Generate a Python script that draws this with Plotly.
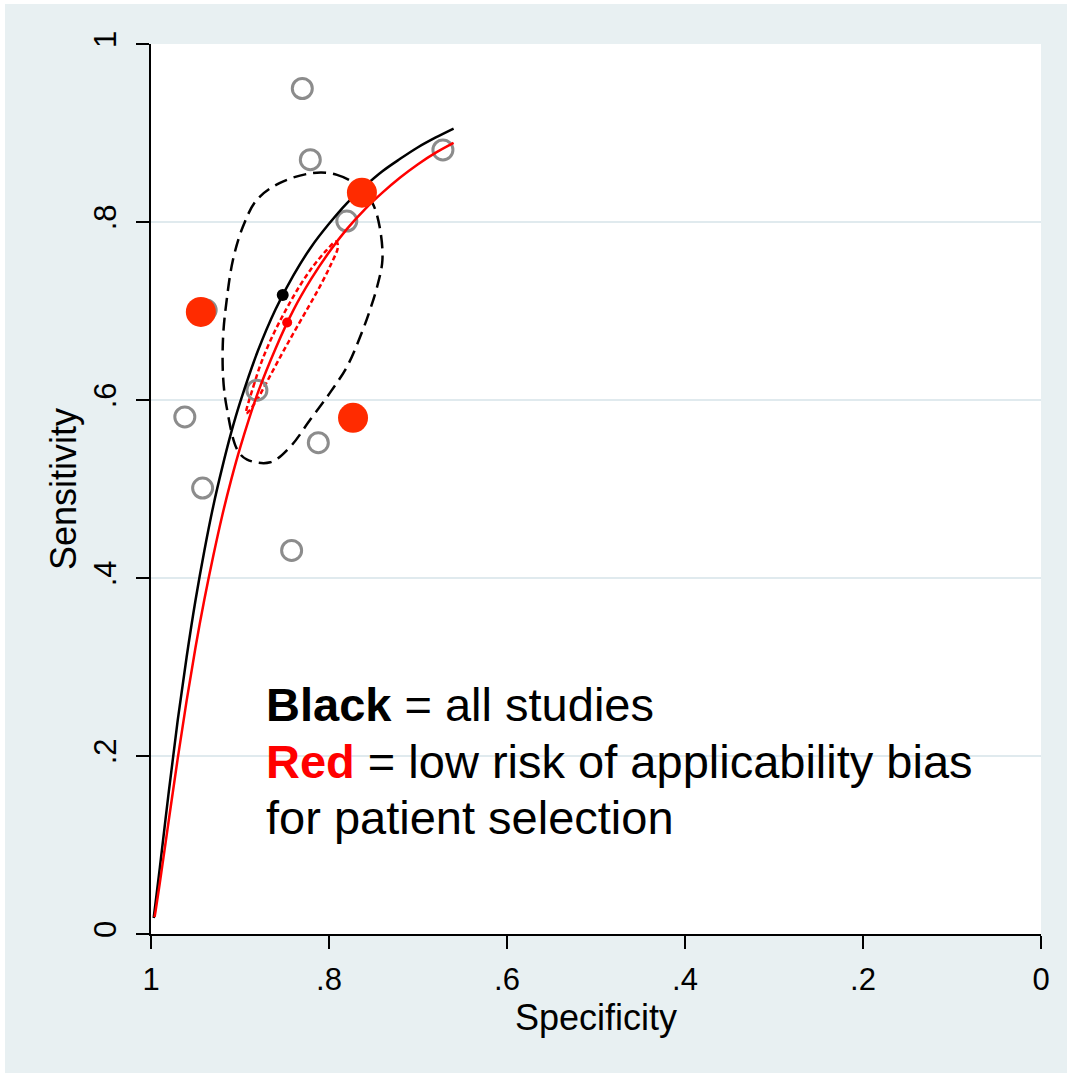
import plotly.graph_objects as go

# ---------------- data ----------------
tick_vals = [0, 0.2, 0.4, 0.6, 0.8, 1]
tick_text = ["0", ".2", ".4", ".6", ".8", "1"]

# individual studies (all) – hollow grey circles
study_spec = [0.830, 0.821, 0.780, 0.672, 0.881, 0.962, 0.942, 0.812, 0.842, 0.938]
study_sens = [0.950, 0.870, 0.801, 0.881, 0.611, 0.581, 0.501, 0.552, 0.431, 0.701]

# studies at low risk of applicability bias – filled red circles
low_spec = [0.944, 0.763, 0.773]
low_sens = [0.699, 0.833, 0.580]

# summary points
sum_all_spec, sum_all_sens = [0.852], [0.718]
sum_low_spec, sum_low_sens = [0.847], [0.687]

# SROC curve, all studies (black)
sroc_all_spec = [0.997, 0.995, 0.99, 0.98, 0.97, 0.96, 0.95, 0.94, 0.93, 0.92, 0.91, 0.90,
                 0.88, 0.86, 0.84, 0.82, 0.80, 0.78, 0.76, 0.74, 0.72, 0.70, 0.68, 0.66]
sroc_all_sens = [0.018, 0.034, 0.075, 0.160, 0.240, 0.311, 0.375, 0.431, 0.481, 0.524, 0.563, 0.597,
                 0.655, 0.702, 0.740, 0.772, 0.798, 0.821, 0.840, 0.857, 0.871, 0.884, 0.895, 0.905]

# SROC curve, low-risk subgroup (red)
sroc_low_spec = [0.996, 0.995, 0.99, 0.98, 0.97, 0.96, 0.95, 0.94, 0.93, 0.92, 0.91, 0.90,
                 0.88, 0.86, 0.84, 0.82, 0.80, 0.78, 0.76, 0.74, 0.72, 0.70, 0.68, 0.66]
sroc_low_sens = [0.019, 0.025, 0.058, 0.128, 0.197, 0.262, 0.322, 0.376, 0.425, 0.470, 0.510, 0.546,
                 0.608, 0.658, 0.701, 0.736, 0.766, 0.792, 0.814, 0.833, 0.850, 0.865, 0.878, 0.889]

# region around the summary point, all studies (black dashed)
reg_all_spec = [0.818, 0.791, 0.765, 0.751, 0.743, 0.740, 0.746, 0.754, 0.765, 0.780, 0.799, 0.821,
                0.844, 0.866, 0.892, 0.903, 0.915, 0.919, 0.919, 0.915, 0.908, 0.897, 0.881, 0.855, 0.818]
reg_all_sens = [0.855, 0.853, 0.839, 0.821, 0.794, 0.757, 0.727, 0.701, 0.671, 0.637, 0.608, 0.578,
                0.547, 0.530, 0.533, 0.544, 0.592, 0.626, 0.671, 0.712, 0.757, 0.794, 0.825, 0.844, 0.855]

# confidence region, low-risk subgroup (red dashed, thin)
reg_low_spec = [0.893, 0.885, 0.875, 0.862, 0.848, 0.833, 0.818, 0.803, 0.792,
                0.790, 0.798, 0.810, 0.824, 0.840, 0.855, 0.870, 0.883, 0.893]
reg_low_sens = [0.585, 0.615, 0.645, 0.675, 0.702, 0.728, 0.750, 0.768, 0.778,
                0.772, 0.752, 0.728, 0.703, 0.675, 0.648, 0.620, 0.597, 0.585]

# ---------------- styling ----------------
BG = "#E8F0F2"
GRID = "#E0EAEE"
FONT = "Liberation Sans, Arial, sans-serif"
RED_LINE = "#FF0000"
RED_DOT = "#FF2B00"

fig = go.Figure()

fig.add_trace(go.Scatter(x=reg_all_spec, y=reg_all_sens, mode="lines",
                         line=dict(color="black", width=2.5, dash="13px,7px", shape="spline"),
                         hoverinfo="skip", showlegend=False))
fig.add_trace(go.Scatter(x=reg_low_spec, y=reg_low_sens, mode="lines",
                         line=dict(color=RED_LINE, width=2.5, dash="5px,3px", shape="spline"),
                         hoverinfo="skip", showlegend=False))
fig.add_trace(go.Scatter(x=study_spec, y=study_sens, mode="markers",
                         marker=dict(symbol="circle-open", size=20, color="#8C8C8C",
                                     line=dict(width=3, color="#8C8C8C")),
                         showlegend=False))
fig.add_trace(go.Scatter(x=sroc_all_spec, y=sroc_all_sens, mode="lines",
                         line=dict(color="black", width=2.5, shape="spline"), showlegend=False))
fig.add_trace(go.Scatter(x=sroc_low_spec, y=sroc_low_sens, mode="lines",
                         line=dict(color=RED_LINE, width=2.5, shape="spline"), showlegend=False))
fig.add_trace(go.Scatter(x=low_spec, y=low_sens, mode="markers",
                         marker=dict(symbol="circle", size=30, color=RED_DOT), showlegend=False))
fig.add_trace(go.Scatter(x=sum_all_spec, y=sum_all_sens, mode="markers",
                         marker=dict(symbol="circle", size=12, color="black"), showlegend=False))
fig.add_trace(go.Scatter(x=sum_low_spec, y=sum_low_sens, mode="markers",
                         marker=dict(symbol="circle", size=10, color=RED_LINE), showlegend=False))

# white patch covering the upper right part of the plot (as in the reference)
fig.add_shape(type="rect", xref="x", yref="y", x0=0.656, x1=0.0, y0=0.85, y1=1.004,
              fillcolor="white", line=dict(width=0), layer="above")

# annotation text
ann_font = dict(family=FONT, size=47, color="black")
fig.add_annotation(x=0.873, y=0.258, xref="x", yref="y", xanchor="left", yanchor="middle",
                   text="<b>Black</b> = all studies", showarrow=False, font=ann_font)
fig.add_annotation(x=0.873, y=0.194, xref="x", yref="y", xanchor="left", yanchor="middle",
                   text="<b><span style='color:#FF0000'>Red</span></b> = low risk of applicability bias",
                   showarrow=False, font=ann_font)
fig.add_annotation(x=0.873, y=0.131, xref="x", yref="y", xanchor="left", yanchor="middle",
                   text="for patient selection", showarrow=False, font=ann_font)

fig.update_layout(
    width=1062, height=1069,
    margin=dict(l=146, r=26, t=40, b=139),
    paper_bgcolor=BG, plot_bgcolor="white",
    font=dict(family=FONT, color="black"),
    showlegend=False,
)
fig.update_xaxes(
    range=[1, 0], tickvals=tick_vals, ticktext=tick_text,
    showgrid=False, zeroline=False,
    showline=True, linecolor="black", linewidth=1.5,
    ticks="outside", ticklen=13, tickwidth=1.5, tickcolor="black",
    ticklabelstandoff=4,
    tickfont=dict(size=31, family=FONT, color="black"),
    title=dict(text="Specificity", font=dict(size=36, family=FONT, color="black"), standoff=0),
)
fig.update_yaxes(
    range=[0, 1], tickvals=tick_vals, ticktext=tick_text, tickangle=-90,
    showgrid=True, gridcolor=GRID, gridwidth=2, zeroline=False,
    showline=True, linecolor="black", linewidth=1.5,
    ticks="outside", ticklen=13, tickwidth=1.5, tickcolor="black",
    ticklabelstandoff=8,
    tickfont=dict(size=31, family=FONT, color="black"),
    title=dict(text="Sensitivity", font=dict(size=36, family=FONT, color="black"), standoff=0),
)

fig.write_html("out.html", post_script="document.body.style.margin='4px 0 0 5px';")
